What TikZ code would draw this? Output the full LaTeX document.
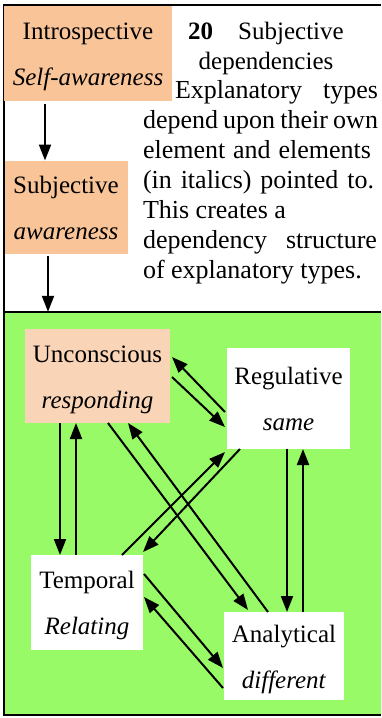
\documentclass[tikz,border=0pt]{standalone}
\usepackage{fontspec}
\setmainfont{Liberation Serif}
\usetikzlibrary{arrows.meta,calc}

\definecolor{peach}{RGB}{249,196,152}
\definecolor{lightpeach}{RGB}{250,212,182}
\definecolor{panelgreen}{RGB}{152,250,102}

\newcommand{\typetext}[2]{\rule{0pt}{24pt}#1\\\textit{#2}\rule[-6pt]{0pt}{6pt}}

\begin{document}
\begin{tikzpicture}[x=1pt,y=-1pt]

\tikzstyle{typebox} = [rectangle, inner sep=0pt, outer sep=0pt, align=center, font=\fontsize{25}{46}\selectfont];%
\tikzstyle{para} = [inner sep=0pt, outer sep=0pt, font=\fontsize{26}{30}\selectfont];
\tikzstyle{dep} = [-{Triangle[length=16pt,width=12pt]}, line width=2pt];

\useasboundingbox (0,0) rectangle (381,718);

% lower panel
\node[rectangle, fill=panelgreen, minimum width=377pt, minimum height=403pt, inner sep=0pt] at (192.5,513.5) (panel) {};

\draw[line width=2.5pt] (381,5) -- (4,5) -- (4,715) -- (381,715);
\draw[line width=2pt] (4,312) -- (381,312);

\node[typebox, fill=peach, minimum width=168pt, minimum height=95pt] at (88,53) (intro) {\typetext{Introspective}{Self-awareness}};
\node[typebox, fill=peach, minimum width=123pt, minimum height=93pt] at (66,207) (subj) {\typetext{Subjective}{awareness}};

\node[para, font=\fontsize{25}{30}\selectfont, align=center] at (266,48) (title) {\textbf{20}\quad Subjective\\dependencies};
\node[para, align=left, anchor=north west] at (143,80) (text) {\hspace*{32pt}\makebox[203pt][s]{Explanatory types}\\\makebox[235pt][s]{depend upon their own}\\\makebox[228pt][s]{element and elements}\\\makebox[231pt][s]{(in italics) pointed to.}\\This creates a\\\makebox[234pt][s]{dependency structure}\\of explanatory types.};

\path (intro.south) ++(-43,3) coordinate (i1);
\path (i1) edge[dep] (i1 |- subj.north);
\path (subj.south) ++(-18,2) coordinate (s1);
\path (s1) edge[dep] (s1 |- panel.north);

\node[typebox, fill=lightpeach, minimum width=145pt, minimum height=94pt] at (97.5,376) (unc) {\typetext{Unconscious}{responding}};
\node[typebox, fill=white, minimum width=123pt, minimum height=101pt] at (288.5,398.5) (reg) {\typetext{Regulative}{same}};
\node[typebox, fill=white, minimum width=112pt, minimum height=95pt] at (87,602.5) (temp) {\typetext{Temporal}{Relating}};
\node[typebox, fill=white, minimum width=120pt, minimum height=88pt] at (284,656) (ana) {\typetext{Analytical}{different}};

% unconscious <-> regulative
\path ($(reg.west)+(-2,13.5)$) edge[dep] ($(unc.east)+(2,-19)$);
\path ($(unc.east)+(2,1)$) edge[dep] ($(reg.west)+(-2,28.5)$);

% unconscious <-> temporal
\path (unc.south) ++(-37.5,0) coordinate (u1);
\path (u1) edge[dep] (u1 |- temp.north);
\path (temp.north) ++(-11,0) coordinate (t1);
\path (t1) edge[dep] (t1 |- unc.south);

% unconscious <-> analytical
\path ($(unc.south)+(10.5,0)$) edge[dep] ($(ana.north)+(-36,-2)$);
\path ($(ana.north)+(-16,0)$) edge[dep] ($(unc.south)+(30.5,0)$);

% temporal <-> regulative
\path ($(temp.north)+(35,0)$) edge[dep] ($(reg.south west)+(-2,3)$);
\path ($(reg.south west)+(13,0)$) edge[dep] ($(temp.north east)+(0,-3)$);

% regulative <-> analytical
\path (reg.south) ++(-1.5,0) coordinate (r1);
\path (r1) edge[dep] (r1 |- ana.north);
\path (ana.north) ++(19,0) coordinate (a1);
\path (a1) edge[dep] (a1 |- reg.south);

% temporal <-> analytical
\path ($(temp.east)+(1,-28.5)$) edge[dep] ($(ana.west)+(-1,12)$);
\path ($(ana.west)+(-1,32)$) edge[dep] ($(temp.east)+(1,-5.5)$);

\end{tikzpicture}
\end{document}
